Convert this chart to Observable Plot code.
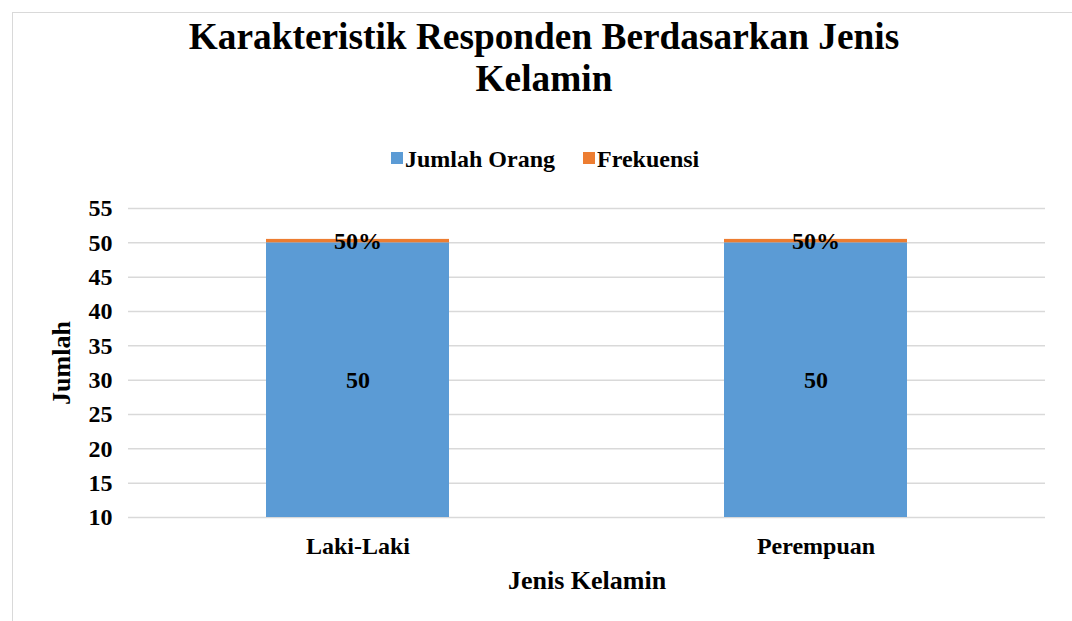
<!DOCTYPE html>
<html><head><meta charset="utf-8">
<script src="https://cdn.jsdelivr.net/npm/d3@7"></script>
<script src="https://cdn.jsdelivr.net/npm/@observablehq/plot@0.6"></script>
<style>
body{margin:0;background:#fff;font-family:"Liberation Serif","Times New Roman",serif;font-weight:bold;overflow:hidden;}
#frame{position:absolute;left:12px;top:12px;width:1100px;height:700px;border:1px solid #d9d9d9;box-sizing:border-box;}
#title{position:absolute;left:0;width:1088px;top:16px;text-align:center;font-size:37.33px;line-height:42px;color:#000;white-space:nowrap;}
#legend{position:absolute;left:391px;top:145px;font-size:24px;line-height:28px;color:#000;white-space:nowrap;}
#legend span.item{margin-right:28px;}
#legend i{display:inline-block;width:12px;height:12px;margin-right:2px;vertical-align:3px;}
#chart{position:absolute;left:0;top:190px;}
</style></head>
<body>
<div id="frame"></div>
<div id="title">Karakteristik Responden Berdasarkan Jenis<br>Kelamin</div>
<div id="legend"></div>
<div id="chart"></div>
<script>
const categories = ["Laki-Laki", "Perempuan"];
const jumlahOrang = [50, 50];
const frekuensi = [0.5, 0.5];
const seriesNames = ["Jumlah Orang", "Frekuensi"];
const seriesColors = ["#5B9BD5", "#ED7D31"];
const yTicks = [10, 15, 20, 25, 30, 35, 40, 45, 50, 55];
const yMin = 10, yMax = 55;

const rows = [];
categories.forEach((c, i) => {
  rows.push({cat: c, series: seriesNames[0], value: jumlahOrang[i]});
  rows.push({cat: c, series: seriesNames[1], value: frekuensi[i]});
});
const labels = [];
categories.forEach((c, i) => {
  labels.push({cat: c, y: (yMin + jumlahOrang[i]) / 2, text: String(jumlahOrang[i])});
  labels.push({cat: c, y: jumlahOrang[i] + frekuensi[i] / 2, text: Math.round(frekuensi[i] * 100) + "%"});
});

const legend = document.getElementById("legend");
seriesNames.forEach((s, i) => {
  const sp = document.createElement("span");
  sp.className = "item";
  sp.innerHTML = `<i style="background:${seriesColors[i]}"></i>${s}`;
  legend.appendChild(sp);
});

const font = '"Liberation Serif","Times New Roman",serif';
const chart = Plot.plot({
  width: 1072,
  height: 431,
  marginLeft: 128,
  marginRight: 27,
  marginTop: 18,
  marginBottom: 104,
  style: {fontFamily: font, fontWeight: "bold", fontSize: "24px", color: "#000", background: "transparent", overflow: "visible"},
  x: {domain: categories, paddingInner: 0.6, paddingOuter: 0.3, label: null, tickSize: 0, tickPadding: 19},
  y: {domain: [yMin, yMax], ticks: yTicks, label: null, tickSize: 0, tickPadding: 16},
  color: {domain: seriesNames, range: seriesColors},
  marks: [
    Plot.gridY(yTicks, {stroke: "#d9d9d9", strokeOpacity: 1, strokeWidth: 1.5}),
    Plot.barY(rows, {x: "cat", y: "value", fill: "series", order: seriesNames, clip: true}),
    Plot.text(labels, {x: "cat", y: "y", text: "text", fontSize: 24, fontWeight: "bold", fill: "#000"}),
    Plot.text(["Jenis Kelamin"], {frameAnchor: "bottom", dy: 71, fontSize: 26, fontWeight: "bold", fill: "#000"}),
    Plot.text(["Jumlah"], {frameAnchor: "left", dx: -67, rotate: -90, textAnchor: "middle", fontSize: 26, fontWeight: "bold", fill: "#000"})
  ]
});
document.getElementById("chart").appendChild(chart);
</script>
</body></html>
